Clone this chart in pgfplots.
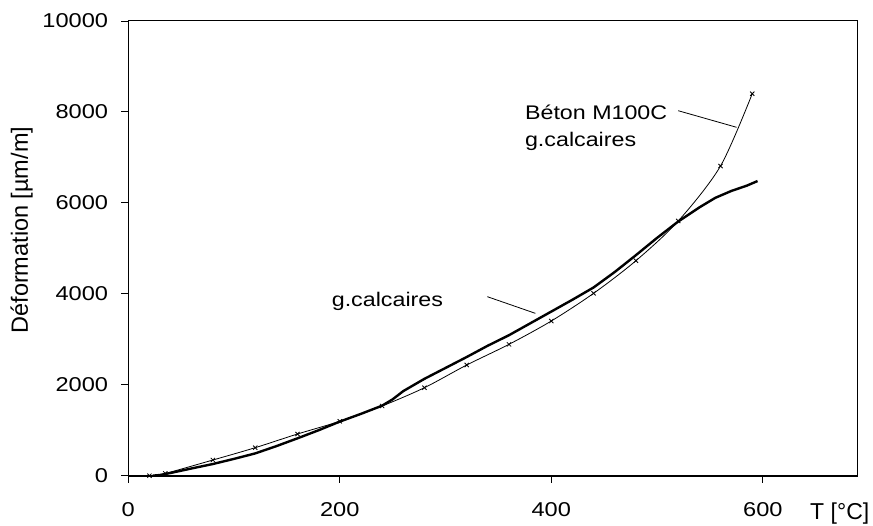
\documentclass[border=0pt]{standalone}
\usepackage{fontspec}
\setmainfont{Liberation Sans}
\newfontfamily\widefont[FakeStretch=1.18]{Liberation Sans}
\usepackage{pgfplots}
\usepackage{pgfplotstable}
\pgfplotsset{compat=1.18}

% thermal strain, calcareous aggregates
\pgfplotstableread{
T eps
23 0
30 15
40 60
60 160
80 257
100 370
120 490
140 650
160 822
180 1000
200 1190
220 1360
240 1540
250 1680
260 1860
280 2130
300 2370
320 2610
340 2860
360 3090
380 3350
400 3610
420 3870
440 4140
460 4480
480 4850
500 5230
520 5590
540 5900
555 6110
570 6260
585 6380
595 6480
}\measured

\begin{document}
\begin{tikzpicture}
\useasboundingbox (-128.3pt,-50.3pt) rectangle (744.7pt,475.7pt);
\begin{axis}[
  at={(0,0)}, anchor=south west,
  width=729.7pt, height=454.7pt, scale only axis,
  xmin=0, xmax=690, ymin=0, ymax=10000,
  xtick={0,200,400,600}, ytick={0,2000,...,10000},
  tick align=outside, xtick pos=bottom, ytick pos=left,
  major tick length=7pt,
  tick style={black, line width=0.9pt},
  axis line style={line width=1pt},
  scaled y ticks=false,
  /pgf/number format/1000 sep={},
  /pgf/number format/assume math mode=true,
  ticklabel style={font=\widefont\fontsize{20}{24}\selectfont, inner sep=0pt},
  xticklabel style={anchor=base, yshift=-34pt},
  yticklabel style={anchor=east, xshift=-13pt},
  xlabel={T [°C]},
  xlabel style={at={(rel axis cs:0.975,-0.097)}, anchor=base, inner sep=0pt,
                font=\fontsize{23}{27}\selectfont},
  ylabel={Déformation [µm/m]},
  ylabel style={at={(rel axis cs:-0.146,0.54)}, anchor=center, inner sep=0pt,
                font=\fontsize{23.5}{28}\selectfont},
  clip=false,
]
\draw[line width=2pt] (rel axis cs:0,0) -- (rel axis cs:1,0);

\addplot[black, line width=2.4pt, line join=round] table[x=T, y=eps] {\measured};

\addplot[black, line width=0.8pt, smooth, mark=x, mark size=3pt,
         mark options={line width=0.8pt}] coordinates {
  (20,0) (35,50) (80,345) (120,616) (160,917) (200,1196) (240,1533)
  (280,1935) (320,2434) (360,2889) (400,3402) (440,4011) (480,4728)
  (520,5601) (560,6811) (590,8401)
};

% callouts
\addplot[black, line width=0.8pt] coordinates {(520,8027) (575.2,7662)};
\addplot[black, line width=0.8pt] coordinates {(339.5,3937) (385,3570)};

\node[anchor=base west, inner sep=0pt, font=\widefont\fontsize{19.7}{24}\selectfont]
  at (axis cs:375,7823) {Béton M100C};
\node[anchor=base west, inner sep=0pt, font=\widefont\fontsize{19.7}{24}\selectfont]
  at (axis cs:375,7229) {g.calcaires};
\node[anchor=base west, inner sep=0pt, font=\widefont\fontsize{19.7}{24}\selectfont]
  at (axis cs:192.3,3717) {g.calcaires};
\end{axis}
\end{tikzpicture}
\end{document}
